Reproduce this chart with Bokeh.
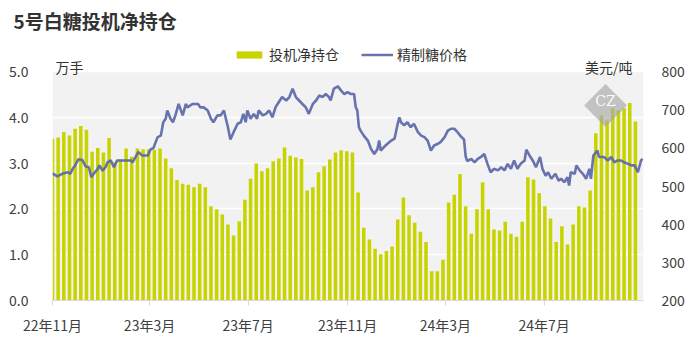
import pandas as pd
from bokeh.plotting import figure
from bokeh.layouts import column
from bokeh.models import (Range1d, LinearAxis, FixedTicker, Legend, LegendItem,
                          Label, NumeralTickFormatter, BoxAnnotation)
from bokeh.embed import file_html
from bokeh.resources import INLINE

# ---------------- data ----------------
title_text = "5号白糖投机净持仓"
bar_name = "投机净持仓"
line_name = "精制糖价格"
left_unit = "万手"
right_unit = "美元/吨"

bar_start = "2022-11-01"   # weekly (Tuesday) positions
net_position = [
    3.53, 3.56, 3.68, 3.60, 3.75, 3.81, 3.73, 3.25, 3.33, 3.23,
    3.55, 3.02, 3.08, 3.32, 3.14, 3.32, 3.30, 3.30, 3.29, 3.32,
    3.10, 2.89, 2.63, 2.55, 2.53, 2.47, 2.55, 2.47, 2.06, 1.99,
    1.88, 1.66, 1.42, 1.73, 2.20, 2.66, 2.99, 2.82, 2.89, 3.04,
    3.10, 3.34, 3.16, 3.12, 3.09, 2.40, 2.47, 2.80, 2.93, 3.08,
    3.23, 3.28, 3.26, 3.23, 2.36, 1.59, 1.33, 1.13, 1.01, 1.08,
    1.18, 1.77, 2.25, 1.86, 1.70, 1.50, 1.28, 0.64, 0.64, 0.89,
    2.14, 2.31, 2.76, 2.06, 1.46, 1.99, 2.58, 1.99, 1.55, 1.53,
    1.72, 1.46, 1.39, 1.72, 2.69, 2.64, 2.34, 2.06, 1.79, 1.28,
    1.62, 1.22, 1.66, 2.06, 2.03, 2.40, 3.65, 4.04, 3.93, 4.20,
    4.16, 4.20, 4.31, 3.91,
]

price_start = "2022-11-01"  # day offsets from this date
price_day = [
    0, 6, 12, 19, 22, 25, 28, 32, 37, 41, 45, 48, 51, 56, 58, 62, 66, 68, 72, 76,
    80, 84, 90, 97, 99, 103, 106, 111, 118, 121, 125, 130, 134, 137, 140, 142, 146, 149, 152, 156,
    161, 165, 167, 173, 180, 183, 187, 192, 196, 199, 204, 208, 212, 217, 220, 224, 229, 233, 236, 239,
    241, 245, 249, 253, 255, 260, 264, 268, 272, 276, 280, 284, 289, 293, 297, 301, 305, 309, 313, 317,
    322, 326, 330, 334, 338, 342, 344, 348, 353, 357, 361, 365, 369, 373, 375, 377, 379, 381, 385, 390,
    394, 398, 402, 404, 406, 410, 414, 419, 423, 427, 429, 431, 435, 439, 443, 447, 452, 456, 460, 464,
    468, 472, 476, 480, 485, 489, 493, 497, 501, 505, 509, 511, 513, 518, 522, 526, 530, 534, 538, 542,
    546, 551, 555, 559, 563, 567, 571, 575, 579, 584, 586, 590, 594, 598, 603, 606, 610, 613, 617, 622,
    626, 629, 633, 637, 639, 641, 646, 648, 652, 656, 660, 664, 666, 669, 674, 676, 682, 687, 691, 695,
    699, 703, 707, 712, 716, 720, 724, 728, 730,
]
price = [
    533, 525, 532, 536, 532, 545, 554, 570, 568, 551, 549, 523, 532, 545, 554, 540, 551, 562, 567, 549,
    567, 567, 567, 567, 562, 577, 589, 580, 580, 595, 600, 628, 632, 667, 676, 698, 676, 667, 685, 715,
    685, 715, 706, 715, 715, 706, 706, 698, 676, 667, 685, 685, 698, 654, 622, 641, 663, 667, 689, 667,
    698, 676, 689, 676, 698, 685, 689, 698, 680, 707, 720, 733, 724, 733, 755, 733, 724, 715, 707, 689,
    715, 724, 737, 733, 741, 733, 724, 755, 761, 750, 741, 746, 741, 741, 707, 698, 654, 645, 632, 619,
    597, 584, 597, 619, 593, 602, 610, 619, 624, 663, 680, 667, 659, 667, 654, 663, 641, 632, 628, 619,
    593, 606, 610, 615, 628, 645, 650, 650, 641, 630, 622, 578, 565, 571, 562, 571, 576, 584, 558, 536,
    545, 541, 549, 541, 558, 545, 567, 545, 558, 567, 595, 580, 567, 549, 576, 545, 527, 536, 519, 532,
    514, 519, 510, 523, 501, 536, 532, 554, 541, 532, 519, 545, 519, 580, 593, 576, 576, 567, 576, 562,
    567, 567, 562, 558, 554, 554, 536, 567, 571,
]

x_tick_dates = ["2022-11-01", "2023-03-01", "2023-07-01", "2023-11-01", "2024-03-01", "2024-07-01"]
x_tick_labels = ["22年11月", "23年3月", "23年7月", "23年11月", "24年3月", "24年7月"]
x_start, x_end = "2022-11-01", "2024-11-01"
left_ticks = [0, 1, 2, 3, 4, 5]
right_ticks = [200, 300, 400, 500, 600, 700, 800]

# ---------------- derived ----------------
bar_dates = pd.date_range(bar_start, periods=len(net_position), freq="7D")
price_dates = pd.Timestamp(price_start) + pd.to_timedelta(price_day, unit="D")

def ms(d):
    return pd.Timestamp(d).value / 1e6

FONT = "Noto Sans CJK SC"
BAR_COLOR = "#C8D400"
LINE_COLOR = "#5B67A8"
TXT = "#404040"
W, H = 698, 351
HEAD_H = 45                 # title strip
BOTTOM = 51                 # space for x labels
PLOT_TOP = 71               # canvas y of the 5.0 / 800 level
FRAME_H = H - HEAD_H - BOTTOM
y_lo, y_hi = left_ticks[0], left_ticks[-1]
p_lo, p_hi = right_ticks[0], right_ticks[-1]
y_top = y_lo + (y_hi - y_lo) * FRAME_H / (H - BOTTOM - PLOT_TOP)
p_top = p_lo + (p_hi - p_lo) * (y_top - y_lo) / (y_hi - y_lo)

# ---------------- title strip ----------------
head = figure(width=W, height=HEAD_H, output_backend="svg", toolbar_location=None,
              x_range=Range1d(0, W), y_range=Range1d(0, HEAD_H),
              x_axis_location=None, y_axis_location=None,
              min_border=0, min_border_left=0, min_border_right=0,
              min_border_top=0, min_border_bottom=0)
head.frame_align = False
head.outline_line_color = None
head.background_fill_color = "white"
head.xgrid.visible = False
head.ygrid.visible = False
head.add_layout(Label(x=13, y=HEAD_H - 20, text=title_text,
                      text_font=FONT, text_font_size="19px", text_font_style="bold",
                      text_color="#333333", text_baseline="middle"))

# ---------------- main chart ----------------
p = figure(width=W, height=H - HEAD_H, output_backend="svg", toolbar_location=None,
           x_axis_type="datetime",
           x_range=Range1d(ms(x_start), ms(x_end)), y_range=Range1d(y_lo, y_top),
           min_border_left=52, min_border_right=55, min_border_top=0, min_border_bottom=BOTTOM)
p.frame_align = False
p.extra_y_ranges = {"price": Range1d(p_lo, p_top)}
p.background_fill_color = "white"
p.border_fill_color = "white"
p.outline_line_color = None

p.add_layout(BoxAnnotation(bottom=y_lo, top=y_hi, fill_color="#F2F2F2", fill_alpha=1.0,
                           line_color=None, level="image"))

bars = p.vbar(x=bar_dates, top=net_position, width=4.4 * 86400000, bottom=0,
              fill_color=BAR_COLOR, line_color=None)
line = p.line(x=price_dates, y=price, y_range_name="price",
              line_color=LINE_COLOR, line_width=2.6, line_alpha=0.92)

xa = p.xaxis[0]
xa.ticker = FixedTicker(ticks=[ms(d) for d in x_tick_dates])
xa.major_label_overrides = {ms(d): l for d, l in zip(x_tick_dates, x_tick_labels)}
xa.minor_tick_line_color = None
xa.major_tick_out = 5
xa.major_tick_in = 0
xa.major_tick_line_color = "#D9D9D9"
xa.axis_line_color = "#D9D9D9"
xa.major_label_text_font = FONT
xa.major_label_text_font_size = "14px"
xa.major_label_text_color = TXT
xa.major_label_standoff = 9

ya = p.yaxis[0]
ya.ticker = FixedTicker(ticks=left_ticks)
ya.formatter = NumeralTickFormatter(format="0.0")
ya.axis_line_color = None
ya.major_tick_line_color = None
ya.minor_tick_line_color = None
ya.major_label_text_font = FONT
ya.major_label_text_font_size = "14px"
ya.major_label_text_color = TXT
ya.major_label_standoff = 18

ra = LinearAxis(y_range_name="price", ticker=FixedTicker(ticks=right_ticks))
ra.axis_line_color = None
ra.major_tick_line_color = None
ra.minor_tick_line_color = None
ra.major_label_text_font = FONT
ra.major_label_text_font_size = "14px"
ra.major_label_text_color = TXT
ra.major_label_standoff = 12
p.add_layout(ra, "right")

p.xgrid.grid_line_color = None
p.ygrid.grid_line_color = "white"
p.ygrid.grid_line_width = 1.5
p.ygrid.ticker = FixedTicker(ticks=left_ticks)

legend = Legend(items=[LegendItem(label=bar_name, renderers=[bars]),
                       LegendItem(label=line_name, renderers=[line])],
                orientation="horizontal", location=(181, 236),
                glyph_width=32, glyph_height=9, label_standoff=4, spacing=22,
                padding=0, margin=0, border_line_color=None, background_fill_alpha=0,
                label_text_font=FONT, label_text_font_size="14px", label_text_color="#333333",
                label_height=16)
p.add_layout(legend, "center")

p.add_layout(Label(x=3, y=234, x_units="screen", y_units="screen", text=left_unit,
                   text_font=FONT, text_font_size="14px", text_color="#333333",
                   text_baseline="middle"))
p.add_layout(Label(x=580, y=234, x_units="screen", y_units="screen", text=right_unit,
                   text_font=FONT, text_font_size="14px", text_color="#333333",
                   text_baseline="middle", text_align="right"))

# watermark logo
p.add_layout(Label(x=553, y=200, x_units="screen", y_units="screen", text="◆",
                   text_font="DejaVu Sans", text_font_size="56px", text_color="#A8A8A8",
                   text_alpha=0.65, text_baseline="middle", text_align="center"))
p.add_layout(Label(x=553, y=200, x_units="screen", y_units="screen", text="CZ",
                   text_font="DejaVu Serif", text_font_size="14px", text_color="white",
                   text_alpha=0.95, text_baseline="middle", text_align="center"))

layout = column(head, p, spacing=0)
open("out.html", "w").write(file_html(layout, INLINE))
